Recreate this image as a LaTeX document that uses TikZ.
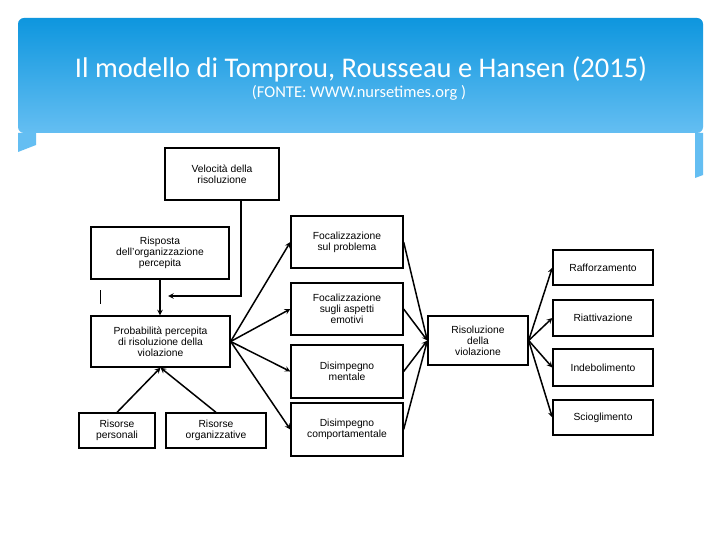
\documentclass[tikz,border=0pt]{standalone}
\usepackage{fontspec}
\setmainfont{Liberation Sans}
\newfontfamily\titlefont{Carlito}
\definecolor{btop}{RGB}{14,150,222}
\definecolor{bbot}{RGB}{100,190,242}
\begin{document}
\begin{tikzpicture}[x=1pt,y=-1pt,
  bx/.style={draw,line width=1.3pt,align=center,font=\fontsize{10.3}{11}\selectfont,inner sep=1pt},
  ar/.style={->,>=stealth,line width=1.5pt}]
\useasboundingbox (0,0) rectangle (720,540);
\fill[white] (0,0) rectangle (720,540);
\shade[top color=btop,bottom color=bbot,rounded corners=6pt] (18,18) rectangle (703,133);
\fill[bbot] (18,133) -- (36,133) -- (36,145) -- (18,152) -- cycle;
\fill[bbot] (695,133) -- (703,133) -- (703,175) -- (695,178) -- cycle;
\node[font=\titlefont\fontsize{28.5}{32}\selectfont,text=white] (title) at (361,69) {Il modello di Tomprou, Rousseau e Hansen (2015)};
\node[font=\titlefont\fontsize{16.5}{18}\selectfont,text=white] (sub) at (359,93) {(FONTE: WWW.nursetimes.org )};
\def\bb#1#2#3#4#5#6{\node[bx,minimum width=#4-#2,minimum height=#5-#3] (#1) at ({(#2+#4)/2},{(#3+#5)/2}) {#6};}
\bb{vel}{165}{148}{279}{200}{Velocità della\\risoluzione}
\bb{ris}{91}{227}{229}{279}{Risposta\\dell'organizzazione\\percepita}
\bb{pro}{91}{316}{230}{367}{Probabilità percepita\\di risoluzione della\\violazione}
\bb{rp}{79}{413}{155}{448}{Risorse\\personali}
\bb{ro}{166}{413}{266}{448}{Risorse\\organizzative}
\bb{f1}{291}{216}{403}{268}{Focalizzazione\\sul problema}
\bb{f2}{291}{283}{403}{335}{Focalizzazione\\sugli aspetti\\emotivi}
\bb{d1}{291}{345}{403}{398}{Disimpegno\\mentale}
\bb{d2}{291}{403}{403}{456}{Disimpegno\\comportamentale}
\bb{rv}{428}{316}{528}{365}{Risoluzione\\della\\violazione}
\bb{o1}{553}{250}{653}{285}{Rafforzamento}
\bb{o2}{553}{300}{653}{336}{Riattivazione}
\bb{o3}{553}{349}{653}{386}{Indebolimento}
\bb{o4}{553}{400}{653}{435}{Scioglimento}
\coordinate (j) at (241,296);
\coordinate (jt) at (168,296);
\draw[ar] (vel.south -| j) -- (j) -- (jt);
\draw[ar] (ris.south) -- (ris.south |- pro.north);
\draw[ar] (rp.north) -- (pro.south);
\draw[ar] (ro.north) -- (pro.south);
\foreach \n in {f1,f2,d1,d2} {\draw[ar] (pro.east) -- (\n.west); \draw[ar] (\n.east) -- (rv.west);}
\foreach \n in {o1,o2,o3,o4} {\draw[ar] (rv.east) -- (\n.west);}
\draw[line width=0.8pt] (100,290) -- (100,304);
\end{tikzpicture}
\end{document}
